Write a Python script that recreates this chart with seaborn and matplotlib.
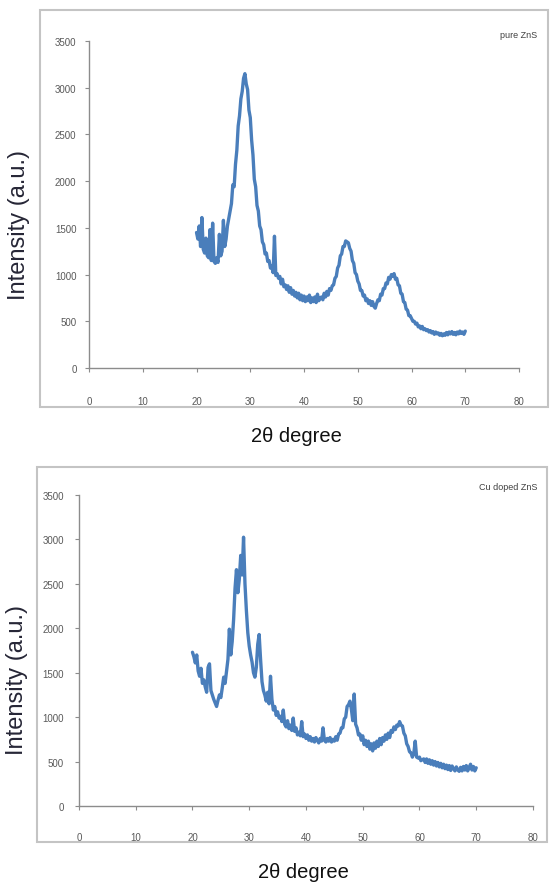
import pandas as pd
import matplotlib
matplotlib.use('Agg')
import matplotlib.pyplot as plt
from matplotlib.patches import Rectangle
import seaborn as sns

# scan angles (2 theta, degrees)
two_theta = [
    20.0, 20.25, 20.5, 20.75, 21.0, 21.25, 21.5, 21.75, 22.0, 22.25, 22.5, 22.75, 23.0, 23.25, 23.5, 23.75, 24.0, 24.25, 24.5, 24.75,
    25.0, 25.25, 25.5, 25.75, 26.0, 26.25, 26.5, 26.75, 27.0, 27.25, 27.5, 27.75, 28.0, 28.25, 28.5, 28.75, 29.0, 29.25, 29.5, 29.75,
    30.0, 30.25, 30.5, 30.75, 31.0, 31.25, 31.5, 31.75, 32.0, 32.25, 32.5, 32.75, 33.0, 33.25, 33.5, 33.75, 34.0, 34.25, 34.5, 34.75,
    35.0, 35.25, 35.5, 35.75, 36.0, 36.25, 36.5, 36.75, 37.0, 37.25, 37.5, 37.75, 38.0, 38.25, 38.5, 38.75, 39.0, 39.25, 39.5, 39.75,
    40.0, 40.25, 40.5, 40.75, 41.0, 41.25, 41.5, 41.75, 42.0, 42.25, 42.5, 42.75, 43.0, 43.25, 43.5, 43.75, 44.0, 44.25, 44.5, 44.75,
    45.0, 45.25, 45.5, 45.75, 46.0, 46.25, 46.5, 46.75, 47.0, 47.25, 47.5, 47.75, 48.0, 48.25, 48.5, 48.75, 49.0, 49.25, 49.5, 49.75,
    50.0, 50.25, 50.5, 50.75, 51.0, 51.25, 51.5, 51.75, 52.0, 52.25, 52.5, 52.75, 53.0, 53.25, 53.5, 53.75, 54.0, 54.25, 54.5, 54.75,
    55.0, 55.25, 55.5, 55.75, 56.0, 56.25, 56.5, 56.75, 57.0, 57.25, 57.5, 57.75, 58.0, 58.25, 58.5, 58.75, 59.0, 59.25, 59.5, 59.75,
    60.0, 60.25, 60.5, 60.75, 61.0, 61.25, 61.5, 61.75, 62.0, 62.25, 62.5, 62.75, 63.0, 63.25, 63.5, 63.75, 64.0, 64.25, 64.5, 64.75,
    65.0, 65.25, 65.5, 65.75, 66.0, 66.25, 66.5, 66.75, 67.0, 67.25, 67.5, 67.75, 68.0, 68.25, 68.5, 68.75, 69.0, 69.25, 69.5, 69.75,
    70.0,
]

# intensity, pure ZnS
pure_zns = [
    1450, 1380, 1520, 1300, 1610, 1270, 1230, 1390, 1200, 1180, 1480, 1150, 1550, 1140, 1120, 1180, 1130, 1430, 1200, 1250,
    1580, 1300, 1380, 1520, 1600, 1680, 1760, 1960, 1940, 2180, 2330, 2590, 2700, 2880, 2960, 3100, 3150, 3040, 2980, 2760,
    2680, 2440, 2280, 2020, 1940, 1740, 1680, 1520, 1480, 1350, 1320, 1220, 1230, 1140, 1150, 1070, 1090, 1020, 1410, 990,
    1010, 960, 980, 900, 950, 870, 890, 840, 880, 810, 860, 790, 830, 770, 810, 750, 800, 730, 780, 720,
    770, 710, 760, 720, 780, 700, 750, 710, 760, 700, 790, 720, 750, 760, 730, 800, 760, 820, 780, 850,
    830, 880, 890, 960, 980, 1070, 1100, 1200, 1220, 1300, 1300, 1360, 1350, 1340, 1280, 1250, 1150, 1120, 1020, 1000,
    930, 900, 830, 830, 770, 780, 720, 740, 690, 720, 670, 710, 660, 640, 690, 730, 720, 790, 780, 850,
    850, 910, 900, 970, 950, 1000, 980, 1010, 950, 960, 890, 880, 800, 790, 710, 700, 630, 620, 560, 560,
    530, 500, 500, 470, 480, 440, 450, 420, 445, 410, 420, 400, 410, 385, 400, 375, 390, 360, 385, 365,
    375, 350, 370, 345, 365, 350, 380, 355, 385, 365, 390, 360, 380, 355, 385, 365, 395, 370, 385, 360,
    395,
]

# intensity, Cu doped ZnS
cu_zns = [
    1730, 1680, 1610, 1700, 1520, 1460, 1550, 1380, 1420, 1340, 1280, 1560, 1600, 1300, 1250, 1200, 1160, 1120, 1190, 1250,
    1220, 1330, 1450, 1380, 1520, 1650, 1990, 1700, 1850, 2100, 2450, 2660, 2400, 2550, 2820, 2600, 3025, 2500, 2200, 1950,
    1800, 1700, 1620, 1500, 1450, 1560, 1820, 1930, 1650, 1400, 1300, 1250, 1180, 1280, 1150, 1460, 1200, 1080, 1120, 1020,
    1060, 990, 1010, 950, 1080, 920, 890, 960, 870, 910, 850, 990, 840, 880, 800, 830, 790, 950, 780, 810,
    760, 800, 740, 780, 730, 760, 720, 770, 740, 710, 760, 730, 880, 740, 720, 760, 730, 770, 720, 750,
    730, 780, 740, 810, 820, 880, 880, 980, 1000, 1120, 1140, 1180, 1090, 960, 1260, 920, 880, 800, 810, 740,
    790, 690, 740, 670, 730, 640, 700, 620, 710, 650, 730, 670, 760, 690, 770, 730, 800, 750, 820, 770,
    850, 830, 890, 860, 910, 900, 950, 910, 900, 820, 790, 700, 670, 610, 600, 550, 590, 730, 550, 540,
    550, 510, 520, 530, 490, 530, 480, 520, 470, 510, 460, 500, 450, 490, 440, 480, 430, 470, 420, 460,
    410, 455, 400, 450, 420, 395, 440, 405, 390, 435, 395, 445, 405, 455, 395, 435, 470, 405, 445, 395,
    430,
]

y_ticks = [0, 500, 1000, 1500, 2000, 2500, 3000, 3500]
x_ticks = [0, 10, 20, 30, 40, 50, 60, 70, 80]

df = pd.DataFrame({'two_theta': two_theta, 'pure': pure_zns, 'cu': cu_zns})

sns.set_style('white')
plt.rcParams['font.family'] = ['Liberation Sans', 'DejaVu Sans']

line_color = '#4a7ebb'
axis_color = '#8c8c8c'
tick_color = '#595959'

fig = plt.figure(figsize=(5.55, 8.87), dpi=100)

# outer chart-area frames
fig.patches.append(Rectangle((0.072, 0.540), 0.915, 0.4476, transform=fig.transFigure,
                             fill=False, edgecolor='#c4c4c4', linewidth=1.5))
fig.patches.append(Rectangle((0.0667, 0.0496), 0.919, 0.4228, transform=fig.transFigure,
                             fill=False, edgecolor='#c4c4c4', linewidth=1.5))

ax1 = fig.add_axes([0.1604, 0.584, 0.7748, 0.3687])
ax2 = fig.add_axes([0.1423, 0.0902, 0.818, 0.3506])

panels = [(ax1, 'pure', 6, 17), (ax2, 'cu', 8, 16)]
for ax, col, ypad, xpad in panels:
    sns.lineplot(data=df, x='two_theta', y=col, ax=ax, color=line_color, linewidth=2.4)
    ax.set_xlim(0, 80)
    ax.set_ylim(0, 3500)
    ax.set_xticks(x_ticks)
    ax.set_yticks(y_ticks)
    ax.set_xlabel('')
    ax.set_ylabel('')
    ax.patch.set_alpha(0)
    for side in ['top', 'right']:
        ax.spines[side].set_visible(False)
    for side in ['left', 'bottom']:
        ax.spines[side].set_color(axis_color)
        ax.spines[side].set_linewidth(1.0)
    ax.tick_params(axis='y', direction='out', length=3, width=0.8, color=axis_color,
                   labelsize=7, labelcolor=tick_color, pad=ypad, left=True)
    ax.tick_params(axis='x', direction='out', length=3, width=0.8, color=axis_color,
                   labelsize=7, labelcolor=tick_color, pad=xpad, bottom=True)

# panel captions
fig.text(537 / 555, 1 - 35 / 887, 'pure ZnS', ha='right', va='center', fontsize=6.5, color='#404040')
fig.text(537 / 555, 1 - 488 / 887, 'Cu doped ZnS', ha='right', va='center', fontsize=6.5, color='#404040')

# axis titles
fig.text(19 / 555, 1 - 225 / 887, 'Intensity (a.u.)', rotation=90, ha='center', va='center',
         fontsize=17, color='#262636')
fig.text(17 / 555, 1 - 680 / 887, 'Intensity (a.u.)', rotation=90, ha='center', va='center',
         fontsize=17, color='#262636')
fig.text(296 / 555, 1 - 437 / 887, '2θ degree', ha='center', va='center', fontsize=14.5, color='#111111')
fig.text(303 / 555, 1 - 873 / 887, '2θ degree', ha='center', va='center', fontsize=14.5, color='#111111')

fig.savefig('out.png', dpi=100)
